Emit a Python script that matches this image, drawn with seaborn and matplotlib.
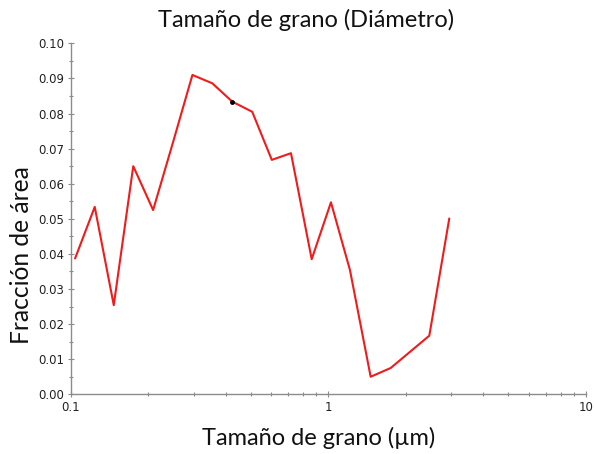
import matplotlib
matplotlib.use("Agg")
import matplotlib.pyplot as plt
import matplotlib.ticker as mticker
import seaborn as sns
import pandas as pd

grain_size_um = [0.104, 0.124, 0.147, 0.175, 0.209, 0.249, 0.297, 0.355, 0.424,
                 0.507, 0.604, 0.717, 0.863, 1.025, 1.215, 1.462, 1.749, 2.470, 2.953]
area_fraction = [0.0387, 0.0534, 0.0254, 0.0650, 0.0525, 0.0715, 0.0910, 0.0886, 0.0834,
                 0.0805, 0.0668, 0.0687, 0.0385, 0.0547, 0.0354, 0.0050, 0.0075, 0.0167, 0.0501]
marked_index = 8
y_ticks = [0.00, 0.01, 0.02, 0.03, 0.04, 0.05, 0.06, 0.07, 0.08, 0.09, 0.10]
x_ticks = [0.1, 1, 10]
x_tick_labels = ["0.1", "1", "10"]
x_minor_ticks = [m * d for d in (0.1, 1) for m in range(2, 10)]

title = "Tamaño de grano (Diámetro)"
xlabel = "Tamaño de grano (µm)"
ylabel = "Fracción de área"

df = pd.DataFrame({"size": grain_size_um, "frac": area_fraction})

sns.set_style("white")
plt.rcParams["font.family"] = ["DejaVu Sans"]

fig = plt.figure(figsize=(5.94, 4.54), dpi=100)
ax = fig.add_axes([0.119, 0.1315, 0.867, 0.773])

sns.lineplot(data=df, x="size", y="frac", ax=ax, color="#ee1c1c", linewidth=1.5,
             sort=False, estimator=None)
ax.plot([grain_size_um[marked_index]], [area_fraction[marked_index]], "o",
        color="black", markersize=2.5, zorder=5)

ax.set_xscale("log")
ax.set_xlim(0.1, 10)
ax.set_ylim(0, 0.10)
ax.xaxis.set_major_locator(mticker.FixedLocator(x_ticks))
ax.xaxis.set_major_formatter(mticker.FixedFormatter(x_tick_labels))
ax.xaxis.set_minor_locator(mticker.FixedLocator(x_minor_ticks))
ax.xaxis.set_minor_formatter(mticker.NullFormatter())
ax.set_yticks(y_ticks)
ax.set_yticklabels([f"{v:.2f}" for v in y_ticks])
ax.yaxis.set_minor_locator(mticker.MultipleLocator(0.005))

for s in ["top", "right"]:
    ax.spines[s].set_visible(False)
for s in ["left", "bottom"]:
    ax.spines[s].set_color("#8c8c8c")
    ax.spines[s].set_linewidth(1.0)

ax.tick_params(axis="both", which="major", direction="inout", length=5, width=0.8,
               color="#8c8c8c", labelsize=8.5, labelcolor="#222222", pad=2,
               bottom=True, left=True)
ax.tick_params(axis="both", which="minor", direction="inout", length=3, width=0.8,
               color="#8c8c8c", bottom=True, left=True)

ax.set_xlabel("")
ax.set_ylabel("")
fig.text(0.515, 0.955, title, ha="center", va="center", fontsize=17,
         family=["Lato", "DejaVu Sans"], color="#111111")
fig.text(0.537, 0.035, xlabel, ha="center", va="center", fontsize=17,
         family=["Lato", "DejaVu Sans"], color="#111111")
fig.text(0.037, 0.438, ylabel, ha="center", va="center", rotation=90, fontsize=17.7,
         family=["Lato", "DejaVu Sans"], color="#111111")

fig.savefig("out.png", dpi=100)
